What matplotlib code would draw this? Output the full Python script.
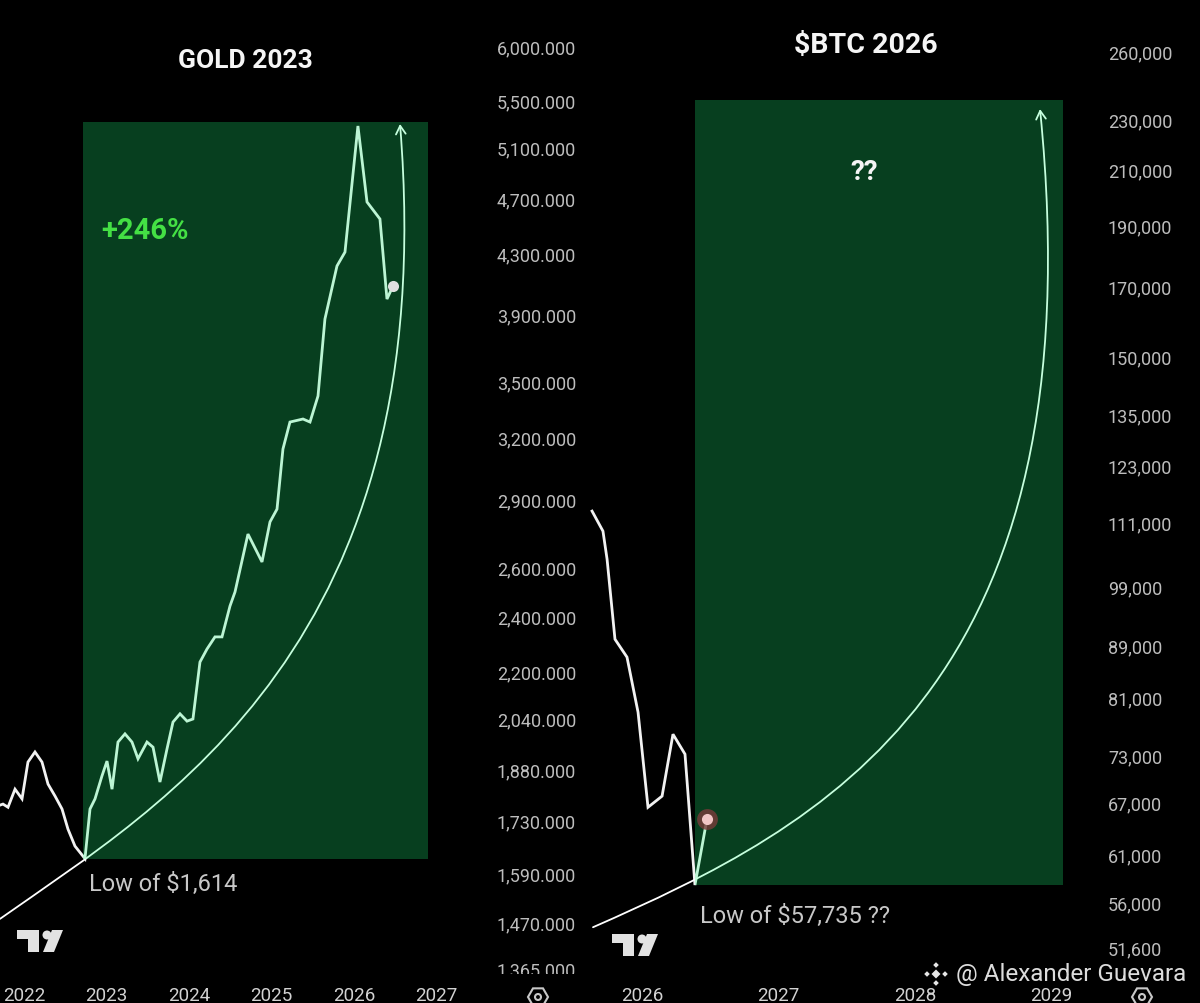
import matplotlib
matplotlib.use("Agg")
import matplotlib.pyplot as plt
from matplotlib.path import Path
from matplotlib.patches import FancyArrowPatch, Rectangle, Polygon, Circle, RegularPolygon
from matplotlib.transforms import Affine2D
from matplotlib.ticker import FixedLocator, FixedFormatter, NullLocator

plt.rcParams['font.family'] = ['Roboto', 'DejaVu Sans']

# ---- GOLD (weekly-ish closes) ----
gold_years = [2021.709, 2021.745, 2021.806, 2021.891, 2021.976, 2022.048, 2022.133,
              2022.218, 2022.291, 2022.376, 2022.461, 2022.533, 2022.618, 2022.739,
              2022.800, 2022.861, 2022.945, 2023.006, 2023.067, 2023.139, 2023.224,
              2023.309, 2023.382, 2023.491, 2023.564, 2023.648, 2023.733, 2023.806,
              2023.891, 2023.976, 2024.048, 2024.133, 2024.218, 2024.315, 2024.400,
              2024.497, 2024.558, 2024.715, 2024.885, 2024.982, 2025.067, 2025.139,
              2025.224, 2025.382, 2025.467, 2025.564, 2025.648, 2025.794, 2025.891,
              2026.048, 2026.158, 2026.315, 2026.400, 2026.473]
gold_prices = [1774, 1777, 1768, 1820, 1792, 1901, 1932,
               1901, 1835, 1800, 1763, 1707, 1661, 1628,
               1763, 1792, 1859, 1904, 1820, 1963, 1989,
               1963, 1911, 1963, 1947, 1841, 1941, 2027,
               2054, 2030, 2037, 2232, 2279, 2324, 2324,
               2442, 2498, 2741, 2621, 2795, 2853, 3142,
               3281, 3297, 3281, 3421, 3871, 4215, 4310,
               5277, 4671, 4545, 3997, 4082]
gold_box_years = [2022.715, 2026.897]
gold_box_prices = [1628, 5311]
gold_arc_years = [2021.709, 2023.685, 2027.067, 2026.558]
gold_arc_prices = [1478, 1777, 2297, 5294]
gold_yticks = [6000, 5500, 5100, 4700, 4300, 3900, 3500, 3200, 2900, 2600,
               2400, 2200, 2040, 1880, 1730, 1590, 1470, 1365]
gold_xticks = [2022, 2023, 2024, 2025, 2026, 2027]

# ---- BTC ----
btc_years = [2025.634, 2025.714, 2025.744, 2025.802, 2025.890, 2025.971,
             2026.044, 2026.147, 2026.227, 2026.315, 2026.388, 2026.476]
btc_prices = [113360, 109330, 103950, 89960, 87100, 78860,
              66430, 67780, 75790, 73110, 57735, 65030]
btc_box_years = [2026.388, 2029.084]
btc_box_prices = [57735, 238000]
btc_arc_years = [2025.641, 2027.319, 2029.341, 2028.916]
btc_arc_prices = [53500, 64190, 82220, 234160]
btc_yticks = [260000, 230000, 210000, 190000, 170000, 150000, 135000, 123000, 111000,
              99000, 89000, 81000, 73000, 67000, 61000, 56000, 51600]
btc_xticks = [2026, 2027, 2028, 2029]

W, H = 1200, 1004
fig = plt.figure(figsize=(W / 100, H / 100), dpi=100, facecolor='black')
# pixel transform, origin top-left, for the screenshot decorations
pix = Affine2D().scale(1 / 100, -1 / 100).translate(0, H / 100) + fig.dpi_scale_trans


def px_axes(l, t, r, b):
    return fig.add_axes([l / W, 1 - b / H, (r - l) / W, (b - t) / H])


BOX = (28 / 255, 1.0, 124 / 255)
LINE = '#f2f2f2'


def setup(ax, xlim, ylim, yticks, fmt, xticks, ypad):
    ax.set_facecolor('black')
    ax.set_yscale('log')
    ax.set_xlim(*xlim)
    ax.set_ylim(*ylim)
    for s in ax.spines.values():
        s.set_visible(False)
    ax.yaxis.tick_right()
    ax.yaxis.set_major_locator(FixedLocator(yticks))
    ax.yaxis.set_major_formatter(FixedFormatter([fmt(v) for v in yticks]))
    ax.yaxis.set_minor_locator(NullLocator())
    ax.xaxis.set_major_locator(FixedLocator(xticks))
    ax.xaxis.set_major_formatter(FixedFormatter([str(v) for v in xticks]))
    ax.xaxis.set_minor_locator(NullLocator())
    ax.tick_params(axis='y', length=0, pad=ypad, labelsize=13, labelcolor='#bdbdbd')
    ax.tick_params(axis='x', length=0, pad=5, labelsize=13.5, labelcolor='#d2d2d2')


def draw_arc(ax, xs, ys):
    path = Path(list(zip(xs, ys)), [Path.MOVETO, Path.CURVE4, Path.CURVE4, Path.CURVE4])
    arr = FancyArrowPatch(path=path, arrowstyle='->,head_length=6,head_width=3.5',
                          color='white', lw=1.3, mutation_scale=1,
                          transform=ax.transData, zorder=2)
    ax.add_patch(arr)


def draw_box(ax, xs, ys):
    ax.add_patch(Rectangle((xs[0], ys[0]), xs[1] - xs[0], ys[1] - ys[0],
                           facecolor=BOX, alpha=0.25, edgecolor='none', zorder=3))


# ---------------- gold panel ----------------
ax_g = px_axes(0, 0, 482, 980)
setup(ax_g, (2021.709, 2027.552), (1342, 6470), gold_yticks,
      lambda v: f'{v:,.3f}', gold_xticks, 10.8)
ax_g.plot(gold_years, gold_prices, color=LINE, lw=2.0, zorder=2, solid_joinstyle='miter')
draw_arc(ax_g, gold_arc_years, gold_arc_prices)
draw_box(ax_g, gold_box_years, gold_box_prices)
ax_g.plot(gold_years[-1], gold_prices[-1], 'o', ms=8, mfc='#e0e0e0', mec='none', zorder=4)
ax_g.annotate('Low of $1,614', xy=(gold_years[13], gold_prices[13]), xytext=(2.9, -18),
              textcoords='offset points', ha='left', va='center', fontsize=17,
              color='#c8c8c8', zorder=5)
ax_g.text(0.211, 0.764, '+246%', transform=ax_g.transAxes, ha='left', va='center',
          fontsize=21, fontweight='bold', color='#44e044', zorder=5)
ax_g.text(0.510, 0.938, 'GOLD 2023', transform=ax_g.transAxes, ha='center', va='center',
          fontsize=19, fontweight='bold', color='#f5f5f5', zorder=5)

# ---------------- btc panel ----------------
ax_b = px_axes(590, 0, 1092, 980)
setup(ax_b, (2025.619, 2029.297), (48730, 285590), btc_yticks,
      lambda v: f'{v:,}', btc_xticks, 11.5)
ax_b.plot(btc_years, btc_prices, color=LINE, lw=2.0, zorder=2, solid_joinstyle='miter')
draw_arc(ax_b, btc_arc_years, btc_arc_prices)
draw_box(ax_b, btc_box_years, btc_box_prices)
ax_b.plot(btc_years[-1], btc_prices[-1], 'o', ms=15, mfc='#7a3a3a', mec='none', alpha=0.8, zorder=4)
ax_b.plot(btc_years[-1], btc_prices[-1], 'o', ms=8, mfc='#f2c6c6', mec='none', zorder=4)
ax_b.annotate('Low of $57,735 ??', xy=(btc_years[10], btc_prices[10]), xytext=(3.6, -21.6),
              textcoords='offset points', ha='left', va='center', fontsize=17,
              color='#c8c8c8', zorder=5)
ax_b.text(0.546, 0.824, '??', transform=ax_b.transAxes, ha='center', va='center',
          fontsize=20, fontweight='bold', color='#f5f5f5', zorder=5)
ax_b.text(0.550, 0.954, r'\$BTC 2026', transform=ax_b.transAxes, ha='center', va='center',
          fontsize=20.5, fontweight='bold', color='#f5f5f5', zorder=5)

# ---------------- screenshot decorations ----------------
for dx, dy in [(0, 0), (595, 4)]:
    logo = '#e2e2e2'
    fig.patches.append(Polygon([(17 + dx, 931 + dy), (39 + dx, 931 + dy), (39 + dx, 953 + dy),
                                (28 + dx, 953 + dy), (28 + dx, 940 + dy), (17 + dx, 940 + dy)],
                               closed=True, fc=logo, ec='none', transform=pix, zorder=6))
    fig.patches.append(Circle((47 + dx, 936 + dy), 4.5, fc=logo, ec='none', transform=pix, zorder=6))
    fig.patches.append(Polygon([(52 + dx, 931 + dy), (63 + dx, 931 + dy), (54 + dx, 953 + dy),
                                (43 + dx, 953 + dy)],
                               closed=True, fc=logo, ec='none', transform=pix, zorder=6))

# hide lower part of the clipped bottom price label
fig.patches.append(Rectangle((486, 975), 110, 11, fc='black', ec='none', transform=pix, zorder=7))

for cx in (538, 1142):
    fig.patches.append(RegularPolygon((cx, 998), numVertices=6, radius=10, orientation=0.5236,
                                      fc='none', ec='#c8c8c8', lw=1.5, transform=pix, zorder=6))
    fig.patches.append(Circle((cx, 998), 3, fc='none', ec='#c8c8c8', lw=1.5, transform=pix, zorder=6))

# binance-like mark + handle
for (cx, cy, r) in [(936, 975, 4.5), (927, 975, 2.8), (945, 975, 2.8), (936, 966, 2.8), (936, 984, 2.8)]:
    fig.patches.append(RegularPolygon((cx, cy), numVertices=4, radius=r, orientation=0,
                                      fc='#e6e6e6', ec='none', transform=pix, zorder=6))
fig.text(956 / W, 1 - 975 / H, '@ Alexander Guevara', ha='left', va='center',
         fontsize=17.5, color='#dcdcdc', zorder=8)

fig.savefig('out.png', dpi=100, facecolor='black')
